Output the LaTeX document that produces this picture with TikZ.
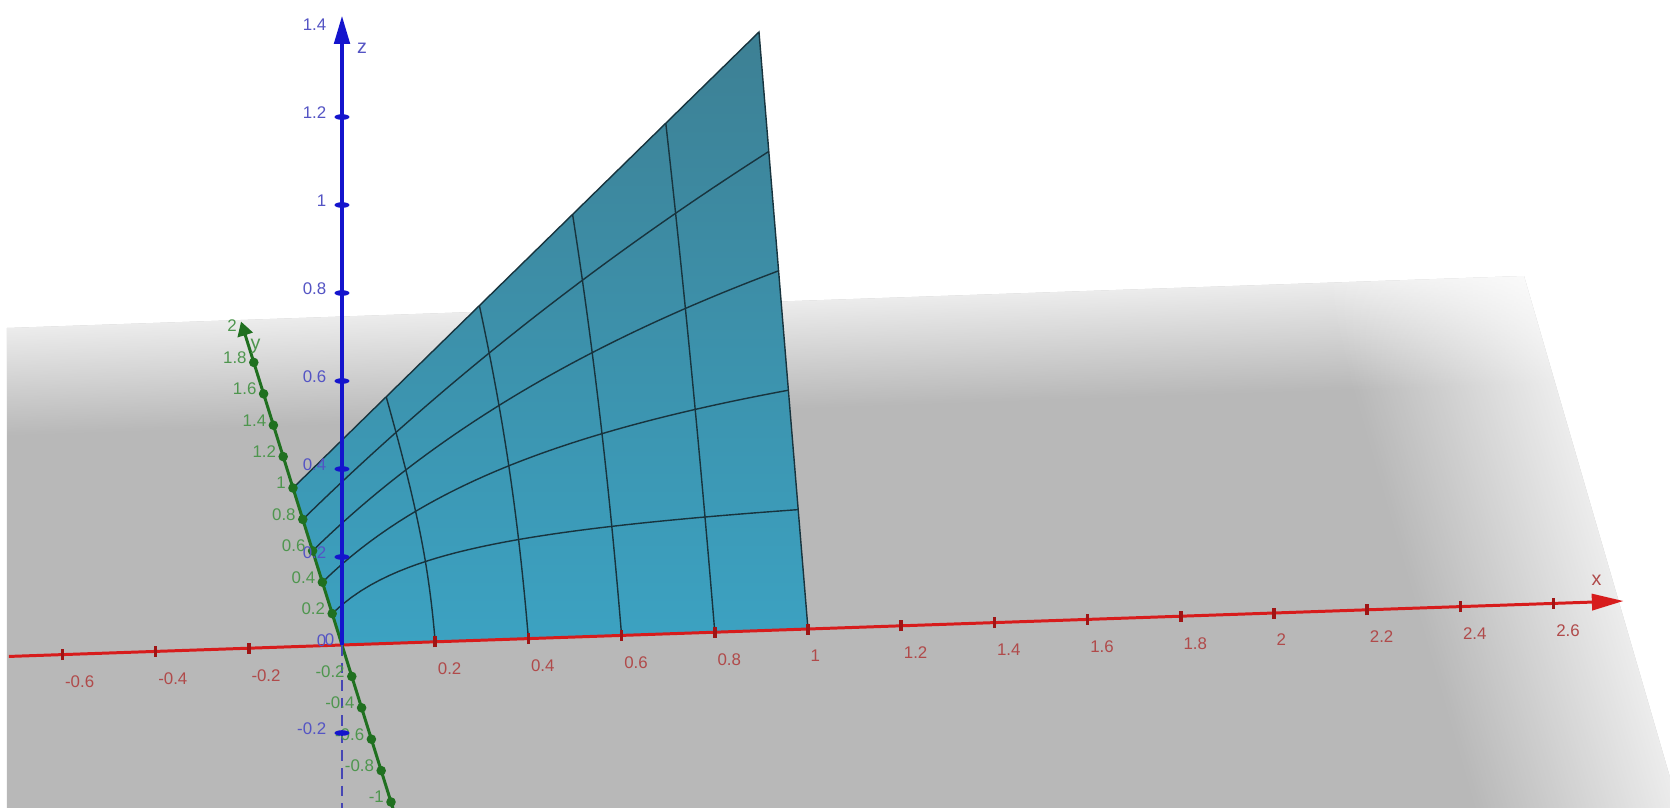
\documentclass[tikz,border=0pt]{standalone}
\usepackage{fontspec}
\setmainfont{Liberation Sans}
\usetikzlibrary{arrows.meta,fadings}

\definecolor{xred}{RGB}{215,28,28}
\definecolor{xtickc}{RGB}{160,20,20}
\definecolor{xlabc}{RGB}{176,74,74}
\definecolor{ygreen}{RGB}{32,112,32}
\definecolor{ylabc}{RGB}{78,150,78}
\definecolor{zblue}{RGB}{20,20,205}
\definecolor{zdashc}{RGB}{70,70,180}
\definecolor{zlabc}{RGB}{84,84,196}
\definecolor{planegray}{RGB}{184,184,184}
\definecolor{surftop}{RGB}{61,128,148}
\definecolor{surfbot}{RGB}{60,162,194}
\definecolor{meshc}{RGB}{24,52,62}

\begin{document}
\begin{tikzpicture}[x={(4.66cm,0.16cm)},y={(-0.49cm,1.57cm)},z={(0cm,4.4cm)},
    every node/.style={inner sep=0pt,font=\fontsize{4.8}{5.5}\selectfont},
    xlab/.style={text=xlabc,anchor=west},
    ylab/.style={text=ylabc,anchor=east},
    zlab/.style={text=zlabc,anchor=east},
    axisname/.style={font=\fontsize{5.6}{6}\selectfont},
    mesh/.style={meshc,line width=0.4pt}]
  \useasboundingbox (-3.42cm,-1.62cm) rectangle (13.28cm,6.45cm);
  \fill[white] (-3.42cm,-1.62cm) rectangle (13.28cm,6.45cm);
  \coordinate (O) at (0,0,0);
  \coordinate (xmin) at (-0.715,0,0);
  \coordinate (xmax) at (2.75,0,0);
  \coordinate (ymin) at (0,-1.2,0);
  \coordinate (ymax) at (0,2.06,0);
  \coordinate (zmin) at (0,0,-0.4);
  \coordinate (zmax) at (0,0,1.43);
  % plane z=0
  \begin{scope}
    \clip (-3.35cm,3.17cm) -- (11.82cm,3.69cm) -- (13.39cm,-1.7cm) -- (-3.35cm,-1.7cm) -- cycle;
    \fill[planegray] (-3.5cm,-1.8cm) rectangle (13.5cm,4cm);
    \begin{scope}[transform canvas={rotate=1.96}]
      \fill[white,fill opacity=0.75,path fading=south] (-5cm,2.2cm) rectangle (16cm,3.3cm);
    \end{scope}
    \begin{scope}[transform canvas={rotate=16.2}]
      \fill[white,fill opacity=0.75,path fading=west] (10.4cm,-6cm) rectangle (12.4cm,8cm);
    \end{scope}
  \end{scope}
  % surface z = xy/(x+y-xy)
  \shade[top color=surftop,bottom color=surfbot] (O) -- (1,0,0) -- (1,1,1) -- (0,1,0) -- cycle;
  \foreach \g in {0.2,0.4,0.6,0.8} {
    \draw[mesh] plot[domain=0:1,samples=50,variable=\t] (\g,\t,{\g*\t/(\g+\t-\g*\t)});
    \draw[mesh] plot[domain=0:1,samples=50,variable=\t] (\t,\g,{\g*\t/(\g+\t-\g*\t)});
  }
  \draw[mesh] (1,0,0) -- (1,1,1) -- (0,1,0);
  % axes
  \draw[xred,line width=0.85pt,-{Triangle[length=9pt,width=4.6pt]}] (xmin) -- (xmax);
  \draw[ygreen,line width=0.85pt,-{Triangle[length=4pt,width=4.4pt]}] (ymin) -- (ymax);
  \draw[zdashc,line width=0.7pt,dash pattern=on 3pt off 2pt] (O) -- (zmin);
  \draw[zblue,line width=1pt,-{Triangle[length=8pt,width=4.4pt]}] (O) -- (zmax);
  % ticks and numbers
  \foreach \v [count=\i] in {-0.6,-0.4,-0.2,0.2,0.4,0.6,0.8,1,1.2,1.4,1.6,1.8,2,2.2,2.4,2.6} {
    \draw[xtickc,line width=1pt] (\v,0,0) ++(0cm,-0.055cm) -- ++(0cm,0.11cm);
    \path (\v,0,0) ++(0.02cm,-0.27cm) node[xlab] (lx\i) {\v};
  }
  \foreach \v [count=\i] in {-1,-0.8,-0.6,-0.4,-0.2,0.2,0.4,0.6,0.8,1,1.2,1.4,1.6,1.8,2} {
    \fill[ygreen] (0,\v,0) circle (0.048cm);
    \path (0,\v,0) ++(-0.065cm,0.05cm) node[ylab] (ly\i) {\v};
  }
  \foreach \v [count=\i] in {-0.2,0.2,0.4,0.6,0.8,1,1.2} {
    \fill[zblue] (0,0,\v) ellipse (0.075cm and 0.028cm);
  }
  \foreach \v [count=\i] in {-0.2,0.2,0.4,0.6,0.8,1,1.2,1.4} {
    \path (0,0,\v) ++(-0.15cm,0.04cm) node[zlab] (lz\i) {\v};
  }
  \node[zlab] (lz0) at ([shift={(-0.15cm,0.04cm)}]O) {0};
  \node[zlab] (ly0) at ([shift={(-0.07cm,0.05cm)}]O) {0};
  \node[axisname,text=xlabc] (xname) at ([shift={(-0.27cm,0.21cm)}]xmax) {x};
  \node[axisname,text=ylabc,anchor=west] (yname) at ([shift={(0.01cm,0cm)}]0,1.9,0) {y};
  \node[axisname,text=zlabc] (zname) at ([shift={(0.2cm,-0.32cm)}]zmax) {z};
\end{tikzpicture}
\end{document}
